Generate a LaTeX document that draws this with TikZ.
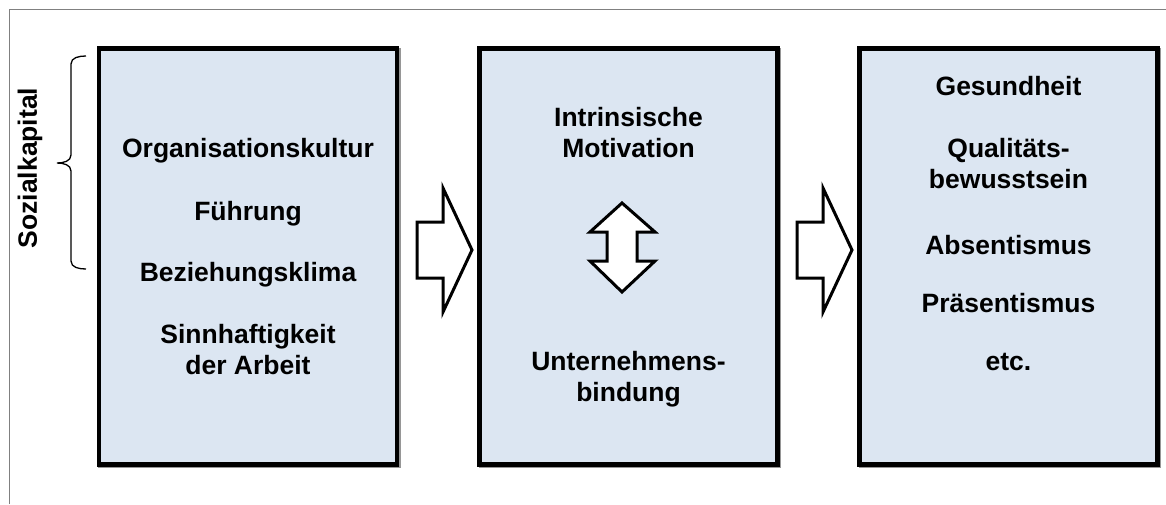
\documentclass[tikz,border=0pt]{standalone}
\usepackage{fontspec}
\setmainfont{Liberation Sans}
\usepackage{tikz}
\usetikzlibrary{positioning,calc}

\definecolor{boxblue}{RGB}{220,230,242}
\definecolor{framegray}{RGB}{128,128,128}
\definecolor{shadegray}{RGB}{150,150,150}

\tikzset{
  panel/.style={draw=black, line width=4.5pt, fill=boxblue, inner sep=0pt,
    minimum width=298pt, minimum height=416pt,
    preaction={draw=shadegray, line width=4.5pt,
      transform canvas={xshift=1.5pt, yshift=-1.5pt}}},
  lbl/.style={font=\bfseries\fontsize{26.5}{31}\selectfont, align=center, anchor=base, inner sep=0pt},
  blockarrow/.style={draw=black, line width=3pt, fill=white, line join=miter}
}

\begin{document}
\begin{tikzpicture}[x=1pt,y=-1pt]
  \useasboundingbox (0,0) rectangle (1166,504);
  \fill[white] (0,0) rectangle (1166,504);
  \draw[framegray, line width=1.5pt] (9.5,504) -- (9.5,9.5) -- (1166,9.5);

  % the three panels
  \node[panel] (ursachen) at (248,256.5) {};
  \node[panel] (motiv) at (628.5,256.5) {};
  \node[panel] (folgen) at (1008.5,256.5) {};

  % brace with label
  \draw[line width=1.3pt] (86,56) to[out=180,in=90] (71,64) -- (71,155)
    to[out=-90,in=0] (57,163) to[out=0,in=90] (71,171) -- (71,261)
    to[out=-90,in=180] (86,269);
  \node[lbl, anchor=center, rotate=90] (sozial) at (30,168) {Sozialkapital};

  % left panel (base = last line)
  \node[lbl] (kultur) at (248,157) {Organisationskultur};
  \node[lbl] (fuehrung) at (248,220) {Führung};
  \node[lbl] (klima) at (248,281) {Beziehungsklima};
  \node[lbl] (sinn) at (248,374) {Sinnhaftigkeit\\der Arbeit};

  % middle panel
  \node[lbl] (intrinsisch) at (628.5,157) {Intrinsische\\Motivation};
  \node[lbl] (bindung) at (628.5,401) {Unternehmens-\\bindung};
  \draw[blockarrow] (622,203) -- (655,232) -- (637,232) -- (637,261) -- (655,261)
    -- (622,292) -- (590,261) -- (607,261) -- (607,232) -- (590,232) -- cycle;

  % right panel
  \node[lbl] (gesund) at (1008.5,95) {Gesundheit};
  \node[lbl] (quali) at (1008.5,188) {Qualitäts-\\bewusstsein};
  \node[lbl] (absent) at (1008.5,254) {Absentismus};
  \node[lbl] (praesent) at (1008.5,312) {Präsentismus};
  \node[lbl] (etc) at (1008.5,370) {etc.};

  % arrows between panels
  \foreach \dx in {0,380}
    \draw[blockarrow, xshift=\dx] (417,222) -- (443,222) -- (443,188) -- (472,250)
      -- (443,312) -- (443,278) -- (417,278) -- cycle;
\end{tikzpicture}
\end{document}
